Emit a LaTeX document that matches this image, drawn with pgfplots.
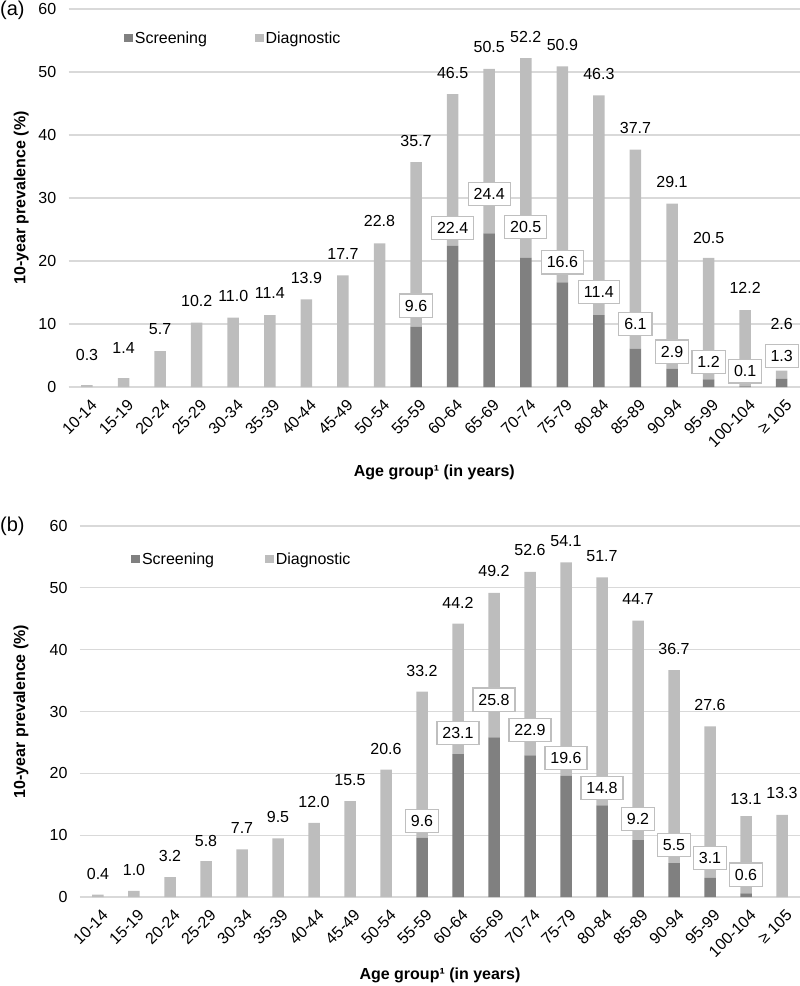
\documentclass[border=0pt]{standalone}
\usepackage{pgfplots}
\pgfplotsset{compat=1.18}
\usepackage{pgfplotstable}
\usepackage{fontspec}
\setmainfont{Liberation Sans}
\definecolor{darkbar}{HTML}{808080}
\definecolor{lightbar}{HTML}{BDBDBD}
\definecolor{gridc}{HTML}{D9D9D9}
\definecolor{boxc}{HTML}{BFBFBF}
\newcommand\fs{\fontsize{16}{19}\selectfont}

\pgfplotstableread{
x scr diag
0 0 0.3
1 0 1.4
2 0 5.7
3 0 10.2
4 0 11.0
5 0 11.4
6 0 13.9
7 0 17.7
8 0 22.8
9 9.6 26.1
10 22.4 24.1
11 24.4 26.1
12 20.5 31.7
13 16.6 34.3
14 11.4 34.9
15 6.1 31.6
16 2.9 26.2
17 1.2 19.3
18 0.1 12.1
19 1.3 1.3
}\barsA
\pgfplotstableread{
x y lab
0 5.1 0.3
1 6.2 1.4
2 9.2 5.7
3 13.7 10.2
4 14.4 11.0
5 14.9 11.4
6 17.3 13.9
7 21.1 17.7
8 26.3 22.8
9 39.1 35.7
10 49.9 46.5
11 53.9 50.5
12 55.6 52.2
13 54.3 50.9
14 49.7 46.3
15 41.1 37.7
16 32.5 29.1
17 23.7 20.5
18 15.7 12.2
19 10.0 2.6
}\totA
\pgfplotstableread{
x y lab
9 12.9 9.6
10 25.2 22.4
11 30.6 24.4
12 25.4 20.5
13 19.8 16.6
14 15.1 11.4
15 10.0 6.1
16 5.6 2.9
17 4.0 1.2
18 2.5 0.1
19 4.9 1.3
}\scrA
\pgfplotstableread{
x scr diag
0 0 0.4
1 0 1.0
2 0 3.2
3 0 5.8
4 0 7.7
5 0 9.5
6 0 12.0
7 0 15.5
8 0 20.6
9 9.6 23.6
10 23.1 21.1
11 25.8 23.4
12 22.9 29.7
13 19.6 34.5
14 14.8 36.9
15 9.2 35.5
16 5.5 31.2
17 3.1 24.5
18 0.6 12.5
19 0 13.3
}\barsB
\pgfplotstableread{
x y lab
0 3.7 0.4
1 4.4 1.0
2 6.6 3.2
3 9.1 5.8
4 11.2 7.7
5 12.9 9.5
6 15.4 12.0
7 18.9 15.5
8 24.0 20.6
9 36.6 33.2
10 47.6 44.2
11 52.8 49.2
12 56.1 52.6
13 57.5 54.1
14 55.2 51.7
15 48.2 44.7
16 40.1 36.7
17 31.1 27.6
18 15.9 13.1
19 16.8 13.3
}\totB
\pgfplotstableread{
x y lab
9 12.3 9.6
10 26.5 23.1
11 31.9 25.8
12 27.0 22.9
13 22.5 19.6
14 17.6 14.8
15 12.6 9.2
16 8.4 5.5
17 6.3 3.1
18 3.6 0.6
}\scrB

\pgfplotsset{
  base/.style={scale only axis, anchor=south west, xmin=-0.5, xmax=19.5, ymin=0, ymax=60, clip=false},
  mainax/.style={base,
    ybar stacked, bar width=11.5pt,
    ytick={0,10,...,60},
    xtick={0,...,19},
    xticklabels={10-14,15-19,20-24,25-29,30-34,35-39,40-44,45-49,50-54,55-59,60-64,65-69,70-74,75-79,80-84,85-89,90-94,95-99,100-104,≥ 105},
    major tick length=0pt,
    ymajorgrids, grid style={gridc, line width=1.2pt},
    axis x line*=bottom, axis y line*=left,
    x axis line style={gridc, line width=1.2pt, -},
    y axis line style={draw=none},
    tick label style={font=\fs},
    xticklabel style={xshift=3pt, yshift=-10pt, rotate=45, anchor=north east, inner sep=1pt},
    yticklabel style={xshift=-9pt},
    label style={font=\fs\bfseries},
    /pgf/number format/assume math mode=true,
    legend columns=2,
    legend image code/.code={\path[#1] (0pt,-4.3pt) rectangle (8.7pt,4.3pt);},
    xlabel={Age group¹ (in years)},
    ylabel={10-year prevalence (\%)},
  },
  labax/.style={base, hide axis},
  totstyle/.style={draw=none, mark=none, nodes near coords, point meta=explicit symbolic,
    nodes near coords style={font=\fs, anchor=center, inner sep=0pt}},
  boxstyle/.style={draw=none, mark=none, nodes near coords, point meta=explicit symbolic,
    nodes near coords style={font=\fs, anchor=center, fill=white, draw=boxc, line width=1.2pt, inner xsep=5.5pt, inner ysep=6pt}},
}

\begin{document}
\begin{tikzpicture}
\path[use as bounding box] (0pt,0pt) rectangle (800pt,-986pt);
\node[font=\fontsize{20}{23}\selectfont, anchor=west, inner sep=0pt] at (0pt,-10pt) {(a)};
\node[font=\fontsize{20}{23}\selectfont, anchor=west, inner sep=0pt] at (0pt,-526pt) {(b)};

% Panel (a)
\begin{axis}[mainax, at={(68.7pt,-387pt)}, width=731.3pt, height=378pt,
  xlabel style={at={(axis description cs:0.5,-0.225)}, anchor=center},
  ylabel style={at={(axis description cs:-0.065,0.5)}, anchor=center},
  legend style={at={(axis description cs:0.0756,0.923)}, anchor=west, draw=none, fill=none, font=\fs,
    inner sep=0pt, nodes={inner sep=2pt}, /tikz/every even column/.append style={column sep=46pt}}]
\addplot[fill=darkbar, draw=none] table[x=x, y=scr] {\barsA};
\addplot[fill=lightbar, draw=none] table[x=x, y=diag] {\barsA};
\legend{Screening, Diagnostic}
\end{axis}
\begin{axis}[labax, at={(68.7pt,-387pt)}, width=731.3pt, height=378pt]
\addplot[totstyle] table[x=x, y=y, meta=lab] {\totA};
\addplot[boxstyle] table[x=x, y=y, meta=lab] {\scrA};
\end{axis}

% Panel (b)
\begin{axis}[mainax, at={(80pt,-897pt)}, width=720pt, height=371pt,
  xlabel style={at={(axis description cs:0.5,-0.21)}, anchor=center},
  ylabel style={at={(axis description cs:-0.082,0.5)}, anchor=center},
  legend style={at={(axis description cs:0.071,0.911)}, anchor=west, draw=none, fill=none, font=\fs,
    inner sep=0pt, nodes={inner sep=2pt}, /tikz/every even column/.append style={column sep=49pt}}]
\addplot[fill=darkbar, draw=none] table[x=x, y=scr] {\barsB};
\addplot[fill=lightbar, draw=none] table[x=x, y=diag] {\barsB};
\legend{Screening, Diagnostic}
\end{axis}
\begin{axis}[labax, at={(80pt,-897pt)}, width=720pt, height=371pt]
\addplot[totstyle] table[x=x, y=y, meta=lab] {\totB};
\addplot[boxstyle] table[x=x, y=y, meta=lab] {\scrB};
\end{axis}
\end{tikzpicture}
\end{document}
